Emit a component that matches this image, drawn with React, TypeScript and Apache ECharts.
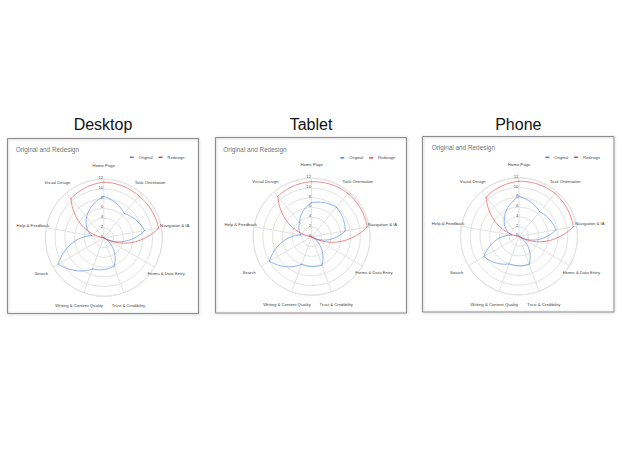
import React, { useEffect, useRef } from "react";
import * as echarts from "echarts";

// ---------- data ----------
const categories = [
  "Home Page",
  "Task Orientation",
  "Navigation & IA",
  "Forms & Data Entry",
  "Trust & Credibility",
  "Writing & Content Quality",
  "Search",
  "Help & Feedback",
  "Visual Design",
];
const radialTicks = [0, 2, 4, 6, 8, 10, 12];
const panelNames = ["Desktop", "Tablet", "Phone"];
const seriesNames = ["Original", "Redesign"];

const desktopOriginal = [8.5, 6.5, 8.5, 0, 6.2, 6.8, 10.8, 2.5, 5.5];
const desktopRedesign = [11.4, 11.2, 11.4, 0, 0, 0, 0, 0, 10.5];
const tabletOriginal = [7.0, 7.9, 7.0, 0, 6.2, 6.0, 10.0, 2.2, 3.8];
const tabletRedesign = [11.3, 11.6, 11.6, 0, 0, 0, 0, 0, 10.8];
const phoneOriginal = [8.2, 6.6, 7.7, 0, 6.1, 6.0, 8.3, 1.5, 4.7];
const phoneRedesign = [11.3, 11.5, 11.3, 0, 0, 0, 0, 0, 10.5];

const panelData = [
  [desktopOriginal, desktopRedesign],
  [tabletOriginal, tabletRedesign],
  [phoneOriginal, phoneRedesign],
];

// ---------- layout / style ----------
const FONT = '"Liberation Sans", Arial, Helvetica, sans-serif';
const COLORS = ["#3f7fe6", "#e53b3b"];
const RADIUS = 58.5;
const LABEL_OFFSET = 13.5;

const layout = [
  { box: [7.5, 138.5, 191, 175], cx: 103.8, cy: 237.8, tx: 15.7, ty: 150, lr: 437.5, ly: 157.7, hx: 103, hy: 124.3 },
  { box: [215.5, 137.5, 191, 175.5], cx: 311.6, cy: 236.8, tx: 223.3, ty: 150, lr: 227, ly: 158.3, hx: 311, hy: 124.3 },
  { box: [422.5, 136.5, 191.5, 175.5], cx: 519, cy: 236.4, tx: 431.7, ty: 148.3, lr: 22, ly: 157.7, hx: 518.3, hy: 124.5 },
];

function textStyle(text: string, size: number, fill: string, align: string) {
  return {
    text,
    fill,
    stroke: "none",
    lineWidth: 0,
    fontSize: size,
    fontFamily: FONT,
    fontWeight: "normal",
    align,
    verticalAlign: "middle",
    textAlign: align,
    textVerticalAlign: "middle",
  };
}

function buildOption() {
  const polar: any[] = [];
  const angleAxis: any[] = [];
  const radiusAxis: any[] = [];
  const series: any[] = [];
  const title: any[] = [];
  const legend: any[] = [];
  const graphic: any[] = [];

  layout.forEach((L, k) => {
    polar.push({ center: [L.cx, L.cy], radius: [0, RADIUS] });
    angleAxis.push({
      polarIndex: k,
      type: "value",
      min: 0,
      max: categories.length,
      interval: 1,
      startAngle: 90,
      clockwise: true,
      axisLine: { show: true, lineStyle: { color: "#e2e2e2", width: 1 } },
      axisTick: { show: false },
      axisLabel: { show: false },
      splitLine: { show: true, lineStyle: { color: "#e2e2e2", width: 1 } },
    });
    radiusAxis.push({
      polarIndex: k,
      type: "value",
      min: 0,
      max: 12,
      interval: 2,
      axisLine: { show: false },
      axisTick: { show: false },
      axisLabel: { show: false },
      splitLine: { show: true, lineStyle: { color: "#e2e2e2", width: 1 } },
    });

    // data lines
    panelData[k].forEach((vals, s) => {
      const color = COLORS[s];
      series.push({
        type: "custom",
        name: seriesNames[s],
        coordinateSystem: "polar",
        polarIndex: k,
        silent: true,
        z: 5,
        itemStyle: { color },
        data: vals.map((v, i) => [v, i]),
        renderItem: (params: any, api: any) => {
          const i = params.dataIndex;
          const r0 = api.value(0);
          const a0 = api.value(1);
          const r1 = vals[(i + 1) % vals.length];
          const pts: number[][] = [];
          const steps = 30;
          for (let t = 0; t <= steps; t++) {
            const f = t / steps;
            pts.push(api.coord([r0 + (r1 - r0) * f, a0 + f]));
          }
          return {
            type: "polyline",
            shape: { points: pts },
            style: { stroke: color, fill: "none", lineWidth: 1, opacity: 0.6, lineCap: "round", lineJoin: "round" },
          };
        },
      });
    });

    // category labels
    series.push({
      type: "custom",
      name: "catLabels" + k,
      coordinateSystem: "polar",
      polarIndex: k,
      silent: true,
      itemStyle: { color: "#444" },
      data: categories.map((c, i) => [0, i]),
      renderItem: (params: any, api: any) => {
        const idx = api.value(1);
        const c = api.coord([0, idx]);
        const p = api.coord([12, idx]);
        const dx = p[0] - c[0];
        const dy = p[1] - c[1];
        const len = Math.sqrt(dx * dx + dy * dy) || 1;
        const f = (len + LABEL_OFFSET) / len;
        return {
          type: "text",
          x: c[0] + dx * f,
          y: c[1] + dy * f,
          style: textStyle(categories[idx], 4.25, "#444", "center"),
        };
      },
    });

    // radial tick labels
    series.push({
      type: "custom",
      name: "radLabels" + k,
      coordinateSystem: "polar",
      polarIndex: k,
      silent: true,
      itemStyle: { color: "#555" },
      data: radialTicks.map((v) => [v, 0]),
      renderItem: (params: any, api: any) => {
        const v = api.value(0);
        const p = api.coord([v, 0]);
        return {
          type: "text",
          x: p[0] - 0.6,
          y: p[1] - 1.6,
          style: textStyle(String(v), 4.2, "#555", "right"),
        };
      },
    });

    title.push({
      text: "Original and Redesign",
      left: L.tx,
      top: L.ty - 3.6,
      padding: 0,
      textStyle: { fontSize: 6.4, fontWeight: "normal", color: "#757575", fontFamily: FONT },
    });

    legend.push({
      data: seriesNames,
      right: L.lr,
      top: L.ly - 2.4,
      padding: 0,
      orient: "horizontal",
      icon: "rect",
      itemWidth: 4,
      itemHeight: 1.4,
      itemGap: 6,
      selectedMode: false,
      textStyle: { fontSize: 4, color: "#444", fontFamily: FONT },
    });

    graphic.push({
      type: "rect",
      shape: { x: L.box[0], y: L.box[1], width: L.box[2], height: L.box[3] },
      style: {
        fill: "transparent",
        stroke: "#8c8c8c",
        lineWidth: 1,
        shadowBlur: 2,
        shadowColor: "rgba(0,0,0,0.25)",
        shadowOffsetX: 0.5,
        shadowOffsetY: 0.5,
      },
      z: 0,
    });
    graphic.push({
      type: "text",
      x: L.hx,
      y: L.hy,
      style: textStyle(panelNames[k], 16, "#111", "center"),
    });
  });

  return {
    animation: false,
    backgroundColor: "#ffffff",
    textStyle: { fontFamily: FONT },
    title,
    legend,
    polar,
    angleAxis,
    radiusAxis,
    series,
    graphic,
  };
}

export default function App() {
  const ref = useRef<HTMLDivElement>(null);
  useEffect(() => {
    if (!ref.current) return;
    const chart = echarts.init(ref.current, undefined, { renderer: "svg" });
    chart.setOption(buildOption() as any);
    return () => chart.dispose();
  }, []);
  return (
    <div
      ref={ref}
      style={{ position: "fixed", left: 0, top: 0, width: 622, height: 450, background: "#fff" }}
    />
  );
}
